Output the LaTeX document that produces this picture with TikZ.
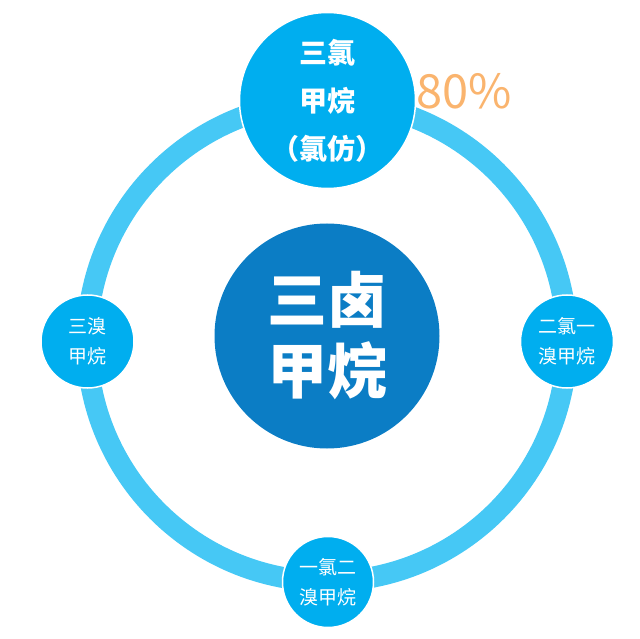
\documentclass[tikz,border=0pt]{standalone}
\usepackage{fontspec}
\setmainfont{Noto Sans CJK SC}
\definecolor{ringblue}{RGB}{70,200,245}
\definecolor{nodeblue}{RGB}{0,174,239}
\definecolor{coreblue}{RGB}{11,125,197}
\definecolor{pctorange}{RGB}{250,180,110}
\begin{document}
\begin{tikzpicture}[x=1pt,y=-1pt,
  bubble/.style={circle,fill=nodeblue,draw=white,line width=1.5pt,inner sep=0pt,text=white,align=center},
  smallbubble/.style={bubble,minimum size=93pt,font=\fontsize{19}{30}\selectfont},
]
\useasboundingbox (0,0) rectangle (640,639);
\coordinate (ctr) at (327,341.5);
\draw[ringblue,line width=21pt] (ctr) circle[radius=240pt];
\node[circle,fill=coreblue,inner sep=0pt,minimum size=225pt,text=white,align=center,
  font=\fontsize{60}{71}\selectfont\bfseries] (core) at (327,336) {三卤\\甲烷};
\node[bubble,minimum size=176pt,font=\fontsize{28}{48}\selectfont\bfseries] (top) at (327.5,100.5) {三氯\\甲烷\\（氯仿）};
\node[smallbubble] (left) at (87.5,341.5) {三溴\\甲烷};
\node[smallbubble] (right) at (567,341.5) {二氯一\\溴甲烷};
\node[smallbubble,minimum size=91pt] (bottom) at (328,582) {一氯二\\溴甲烷};
\node[text=pctorange,font=\fontsize{47}{52}\selectfont,inner sep=0pt] (pct) at (464,91) {80\%};
\end{tikzpicture}
\end{document}
